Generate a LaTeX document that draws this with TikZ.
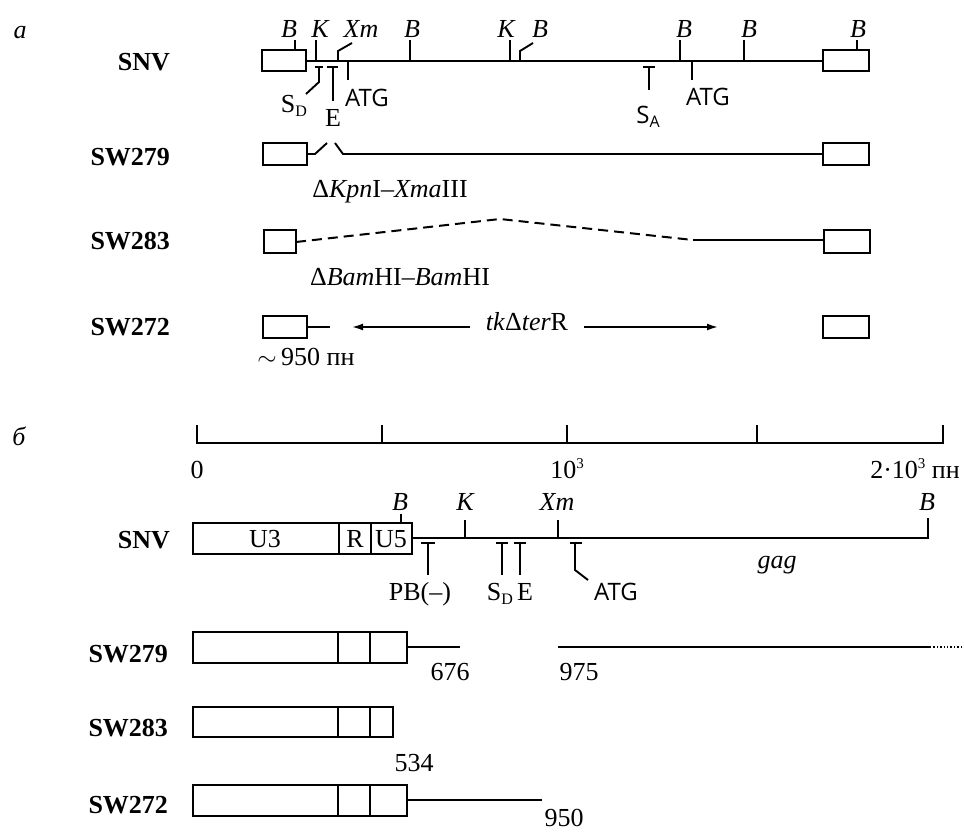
\documentclass[tikz,border=0pt]{standalone}
\usepackage{fontspec}
\setmainfont{Liberation Serif}
\newfontfamily\sansf{Open Sans}
\usetikzlibrary{arrows.meta}
\newcommand\subsc[1]{\raisebox{-0.35ex}{\fontsize{16}{16}\selectfont #1}}
\newcommand\supsc[1]{\raisebox{0.8ex}{\fontsize{15}{15}\selectfont #1}}
\begin{document}
\begin{tikzpicture}[x=1pt,y=-1pt,
  every node/.style={inner sep=0pt, outer sep=0pt, font=\fontsize{26}{30}\selectfont, text height=17pt, text depth=0pt},
  rowlbl/.style={anchor=east, font=\fontsize{26}{30}\selectfont\bfseries},
  itl/.style={font=\fontsize{26}{30}\selectfont\itshape},
  sanslbl/.style={font=\fontsize{24}{28}\selectfont\sansf},
  ln/.style={line width=1.9pt},
  bx/.style={line width=2pt, fill=white},
  dsh/.style={line width=2pt, dash pattern=on 10pt off 6pt},
  arr/.style={line width=1.7pt, -{Latex[length=11pt,width=7pt]}}
]
\useasboundingbox (0,0) rectangle (964,832);

% ================= part a =================
\node[itl] (pa) at (20,30) {a};
\node[rowlbl] (snva) at (170,62) {SNV};
\node[rowlbl] (sw279a) at (170,157) {SW279};
\node[rowlbl] (sw283a) at (170,241) {SW283};
\node[rowlbl] (sw272a) at (170,327) {SW272};

% SNV line
\draw[ln] (306,61) -- (823,61);
\draw[bx] (262,50) rectangle (306,71);
\draw[bx] (823,50) rectangle (869,71);
% upper ticks
\draw[ln] (295,50) -- (295,40);
\draw[ln] (316,61) -- (316,40);
\draw[ln] (338,61) -- (338,51) -- (352,43);
\draw[ln] (410,61) -- (410,40);
\draw[ln] (510,61) -- (510,40);
\draw[ln] (520,61) -- (520,51) -- (533,43);
\draw[ln] (680,61) -- (680,40);
\draw[ln] (744,61) -- (744,40);
\draw[ln] (857,50) -- (857,40);
\node[itl] (b1) at (289,29) {B};
\node[itl] (k1) at (320,29) {K};
\node[itl] (xm1) at (361,29) {Xm};
\node[itl] (b2) at (412,29) {B};
\node[itl] (k2) at (506,29) {K};
\node[itl] (b3) at (540,29) {B};
\node[itl] (b4) at (684,29) {B};
\node[itl] (b5) at (749,29) {B};
\node[itl] (b6) at (858,29) {B};
% lower markers
\draw[ln] (315,67) -- (323,67);
\draw[ln] (319,67) -- (319,82) -- (306,94);
\draw[ln] (327,67) -- (338,67);
\draw[ln] (333,67) -- (333,101);
\draw[ln] (348,61) -- (348,80);
\draw[ln] (643,67) -- (655,67);
\draw[ln] (649,67) -- (649,90);
\draw[ln] (692,61) -- (692,80);
\node (sda) at (294,104) {S\subsc{D}};
\node (ea) at (333,118) {E};
\node[sanslbl] (atga1) at (367,98) {ATG};
\node[sanslbl] (saa) at (648,115) {S\subsc{A}};
\node[sanslbl] (atga2) at (708,97) {ATG};

% SW279
\draw[ln] (307,154) -- (315,154) -- (327,143);
\draw[ln] (335,143) -- (343,154) -- (823,154);
\draw[bx] (263,143) rectangle (307,165);
\draw[bx] (823,143) rectangle (869,165);
\node (dkx) at (390,189) {Δ\textit{Kpn}I--\textit{Xma}III};

% SW283
\draw[dsh] (296,242) -- (500,219) -- (693,240);
\draw[ln] (693,240) -- (824,240);
\draw[bx] (264,230) rectangle (296,253);
\draw[bx] (824,230) rectangle (870,253);
\node (dbb) at (400,277) {Δ\textit{Bam}HI--\textit{Bam}HI};

% SW272
\draw[bx] (263,316) rectangle (307,338);
\draw[bx] (823,316) rectangle (869,338);
\node (tk) at (527,322) {\textit{tk}Δ\textit{ter}R};
\coordinate (lo) at (307,327);
\coordinate (lo2) at (330,327);
\draw[ln] (lo) -- (lo2);
\draw[arr] (tk.west) ++(-16,5) coordinate (tl) -- (352,327);
\draw[arr] (tk.east) ++(16,5) coordinate (tr) -- (718,327);
\node (n950) at (306,357) {$\sim$\,950 пн};

% ================= part b =================
\node[itl] (pb) at (19,437) {б};
% scale
\draw[ln] (197,425) -- (197,443) -- (943,443) -- (943,425);
\foreach \t in {382,567,757} \draw[ln] (\t,443) -- (\t,425);
\node (s0) at (197,470) {0};
\node (s1) at (567,470) {10\supsc{3}};
\node (s2) at (915,470) {2·10\supsc{3} пн};

% SNV b
\node[rowlbl] (snvb) at (170,540) {SNV};
\draw[ln] (412,538) -- (928,538) -- (928,518);
\draw[bx] (193,523) rectangle (412,554);
\draw[ln] (339,523) -- (339,554);
\draw[ln] (371,523) -- (371,554);
\node (u3) at (265,539) {U3};
\node (rr) at (355,539) {R};
\node (u5) at (391,539) {U5};
\draw[ln] (401,523) -- (401,514);
\draw[ln] (465,538) -- (465,520);
\draw[ln] (558,538) -- (558,520);
\node[itl] (bb1) at (400,502) {B};
\node[itl] (kb) at (465,502) {K};
\node[itl] (xmb) at (557,502) {Xm};
\node[itl] (bb2) at (927,502) {B};
\draw[ln] (421,543) -- (435,543);
\draw[ln] (428,543) -- (428,575);
\draw[ln] (496,543) -- (508,543);
\draw[ln] (502,543) -- (502,575);
\draw[ln] (514,543) -- (526,543);
\draw[ln] (520,543) -- (520,575);
\draw[ln] (570,543) -- (582,543);
\draw[ln] (575,543) -- (575,570) -- (588,580);
\node (pbm) at (420,592) {PB(--)};
\node (sdb) at (500,592) {S\subsc{D}};
\node (eb) at (525,592) {E};
\node[sanslbl] (atgb) at (616,592) {ATG};
\node[itl] (gag) at (777,560) {gag};

% SW279 b
\node[rowlbl] (sw279b) at (168,654) {SW279};
\draw[ln] (407,647) -- (460,647);
\draw[bx] (193,632) rectangle (407,663);
\draw[ln] (338,632) -- (338,663);
\draw[ln] (370,632) -- (370,663);
\node (n676) at (450,672) {676};
\draw[ln] (558,647) -- (930,647);
\draw[line width=1.4pt, dotted] (930,647) -- (964,647);
\node (n975) at (579,672) {975};

% SW283 b
\node[rowlbl] (sw283b) at (168,728) {SW283};
\draw[bx] (193,707) rectangle (393,737);
\draw[ln] (338,707) -- (338,737);
\draw[ln] (370,707) -- (370,737);
\node (n534) at (414,763) {534};

% SW272 b
\node[rowlbl] (sw272b) at (168,805) {SW272};
\draw[ln] (407,800) -- (542,800);
\draw[bx] (193,785) rectangle (407,816);
\draw[ln] (338,785) -- (338,816);
\draw[ln] (370,785) -- (370,816);
\node (n950b) at (564,818) {950};
\end{tikzpicture}
\end{document}
